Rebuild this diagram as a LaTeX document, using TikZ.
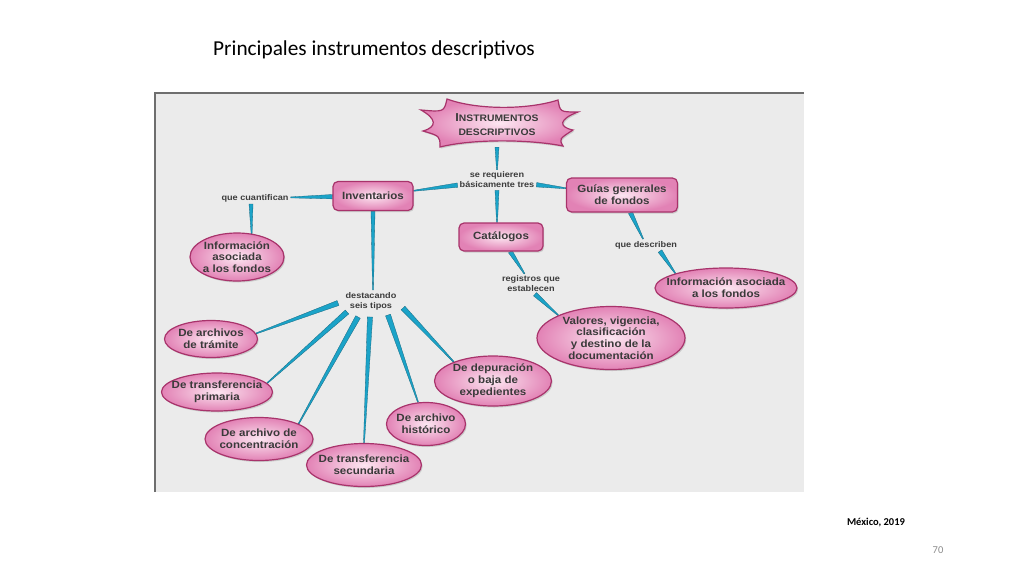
\documentclass[tikz,border=0pt]{standalone}
\usepackage{fontspec}
\setmainfont{Carlito}
\newfontfamily\nf[FakeStretch=1.1]{Liberation Sans}
\usetikzlibrary{calc,shapes.geometric,shadows}

\definecolor{nodeborder}{HTML}{A8336B}
\definecolor{pinkin}{HTML}{FCE6F1}
\definecolor{pinkout}{HTML}{E282B5}
\definecolor{wedgefill}{HTML}{1BA3C8}
\definecolor{wedgeedge}{HTML}{16677F}
\definecolor{txtcol}{HTML}{3A3A3A}
\definecolor{lblcol}{HTML}{3C3C3C}
\definecolor{framebg}{HTML}{EBEBEB}
\definecolor{frameline}{HTML}{6E6E6E}
\definecolor{pagenum}{HTML}{8C8C8C}

\pgfdeclarelayer{back}
\pgfdeclarelayer{conn}
\pgfsetlayers{back,conn,main}

\tikzset{
  pinkfill/.style={draw=nodeborder, line width=1.2pt, inner color=pinkin, outer color=pinkout,
    drop shadow={shadow xshift=1.2pt, shadow yshift=-1.5pt, opacity=0.3}},
  pinkbase/.style={pinkfill, text=txtcol, font=\nf\bfseries\fontsize{10.5}{11.8}\selectfont, align=center},
  pinkbox/.style={pinkbase, rectangle, rounded corners=5pt, inner sep=1pt},
  pinkoval/.style={pinkbase, ellipse, inner xsep=-14pt, inner ysep=-6pt},
  lbl/.style={font=\nf\bfseries\fontsize{8.3}{10}\selectfont, text=lblcol, align=center, inner sep=2pt},
  wedge/.style={fill=wedgefill, draw=wedgeedge, line width=0.3pt, line join=round},
}

\newcommand\wcon[3][2.4]{%
  \path (#2) -- (#3) coordinate[pos=0] (ws) coordinate[pos=1] (we);
  \filldraw[wedge] ($(ws)!#1pt!90:(we)$) -- ($(we)!0.5pt!-90:(ws)$) -- ($(we)!0.5pt!90:(ws)$) -- ($(ws)!#1pt!-90:(we)$) -- cycle;}

\begin{document}
\begin{tikzpicture}[x=1pt,y=-1pt]
\useasboundingbox (0,0) rectangle (1024,576);
\begin{pgfonlayer}{back}
  \fill[white] (0,0) rectangle (1024,576);
  \fill[framebg] (155,93) rectangle (804,492);
  \draw[frameline, line width=2pt] (155,492) -- (155,93) -- (804,93);
\end{pgfonlayer}

% title and footer
\node[font=\fontsize{21.3}{25}\selectfont, anchor=west, inner sep=0pt] (title) at (213,50) {Principales instrumentos descriptivos};
\node[font=\bfseries\fontsize{10.5}{12}\selectfont, inner sep=0pt] (mexico) at (876,523) {México, 2019};
\node[font=\fontsize{10.5}{12}\selectfont, text=pagenum, inner sep=0pt] (pnum) at (938,550) {70};

% burst
\coordinate (starc) at (497,125);
\begin{scope}[shift={(starc)}]
  \path[pinkfill] (-50,-26) .. controls (-20,-15) and (30,-15) .. (61,-25)
    .. controls (63,-13) .. (81,-13)
    .. controls (62,-6) and (61,2) .. (76,5)
    .. controls (62,14) .. (66,21)
    .. controls (30,14) and (-25,14) .. (-57,22)
    .. controls (-57,11) .. (-74,6)
    .. controls (-60,2) and (-60,-6) .. (-76,-15)
    .. controls (-53,-13) .. (-50,-26) -- cycle;
\end{scope}
\node[text=txtcol, font=\nf\bfseries\fontsize{9.4}{14}\selectfont, align=center, minimum width=120pt, minimum height=44pt, inner sep=0pt] (star) at (starc)
  {{\fontsize{11.5}{14}\selectfont I}NSTRUMENTOS\\DESCRIPTIVOS};

% main nodes
\node[lbl] (serequieren) at (497,180) {se requieren\\básicamente tres};
\node[pinkbox, minimum width=80pt, minimum height=29pt] (inventarios) at (373,196) {Inventarios};
\node[pinkbox, minimum width=111pt, minimum height=34pt] (guias) at (622,195) {Guías generales\\de fondos};
\node[pinkbox, minimum width=84pt, minimum height=28pt] (catalogos) at (501,237) {Catálogos};
\node[lbl] (cuantifican) at (255,198) {que cuantifican};
\node[pinkoval, minimum width=94pt, minimum height=48pt] (info1) at (237,257) {Información\\asociada\\a los fondos};
\node[lbl] (describen) at (646,245) {que describen};
\node[pinkoval, minimum width=142pt, minimum height=40pt] (info2) at (726,288) {Información asociada\\a los fondos};
\node[lbl] (registros) at (531,284) {registros que\\establecen};
\node[pinkoval, minimum width=148pt, minimum height=63pt] (valores) at (611,338) {Valores, vigencia,\\clasificación\\y destino de la\\documentación};
\node[lbl] (destacando) at (371,301) {destacando\\seis tipos};
\node[pinkoval, minimum width=93pt, minimum height=37pt] (tramite) at (211,339) {De archivos\\de trámite};
\node[pinkoval, minimum width=111pt, minimum height=38pt] (primaria) at (217,392) {De transferencia\\primaria};
\node[pinkoval, minimum width=108pt, minimum height=43pt] (concentracion) at (259,439) {De archivo de\\concentración};
\node[pinkoval, minimum width=115pt, minimum height=43pt] (secundaria) at (364,465) {De transferencia\\secundaria};
\node[pinkoval, minimum width=79pt, minimum height=43pt] (historico) at (426,424) {De archivo\\histórico};
\node[pinkoval, minimum width=117pt, minimum height=50pt] (depuracion) at (493,381) {De depuración\\o baja de\\expedientes};

% connectors
\begin{pgfonlayer}{conn}
  \wcon[2]{star.south}{serequieren.north}
  \wcon[2.2]{serequieren}{inventarios}
  \wcon[2.2]{serequieren}{guias}
  \wcon[2]{serequieren.south}{serequieren.south |- catalogos.north}
  \wcon[2.2]{inventarios}{cuantifican}
  \wcon[2]{[xshift=-4pt]cuantifican.south}{info1.58}
  \wcon[2]{inventarios.south}{inventarios.south |- destacando.north}
  \wcon[2.2]{catalogos}{registros}
  \wcon[2.2]{[xshift=4pt]registros.south}{valores.north west}
  \wcon[2.2]{guias}{describen}
  \wcon[2.2]{[xshift=14pt]describen.south}{info2.north west}
  \wcon[2.6]{[shift={(-33,2)}]destacando.center}{tramite.7}
  \wcon[2.6]{[shift={(-24,11)}]destacando.center}{primaria.10}
  \wcon[2.6]{[shift={(-13,16)}]destacando.center}{concentracion.21}
  \wcon[2.6]{[shift={(-1,16)}]destacando.center}{secundaria.north}
  \wcon[2.6]{[shift={(17,14)}]destacando.center}{historico.110}
  \wcon[2.6]{[shift={(32,7)}]destacando.center}{depuracion.154}
\end{pgfonlayer}
\end{tikzpicture}
\end{document}
